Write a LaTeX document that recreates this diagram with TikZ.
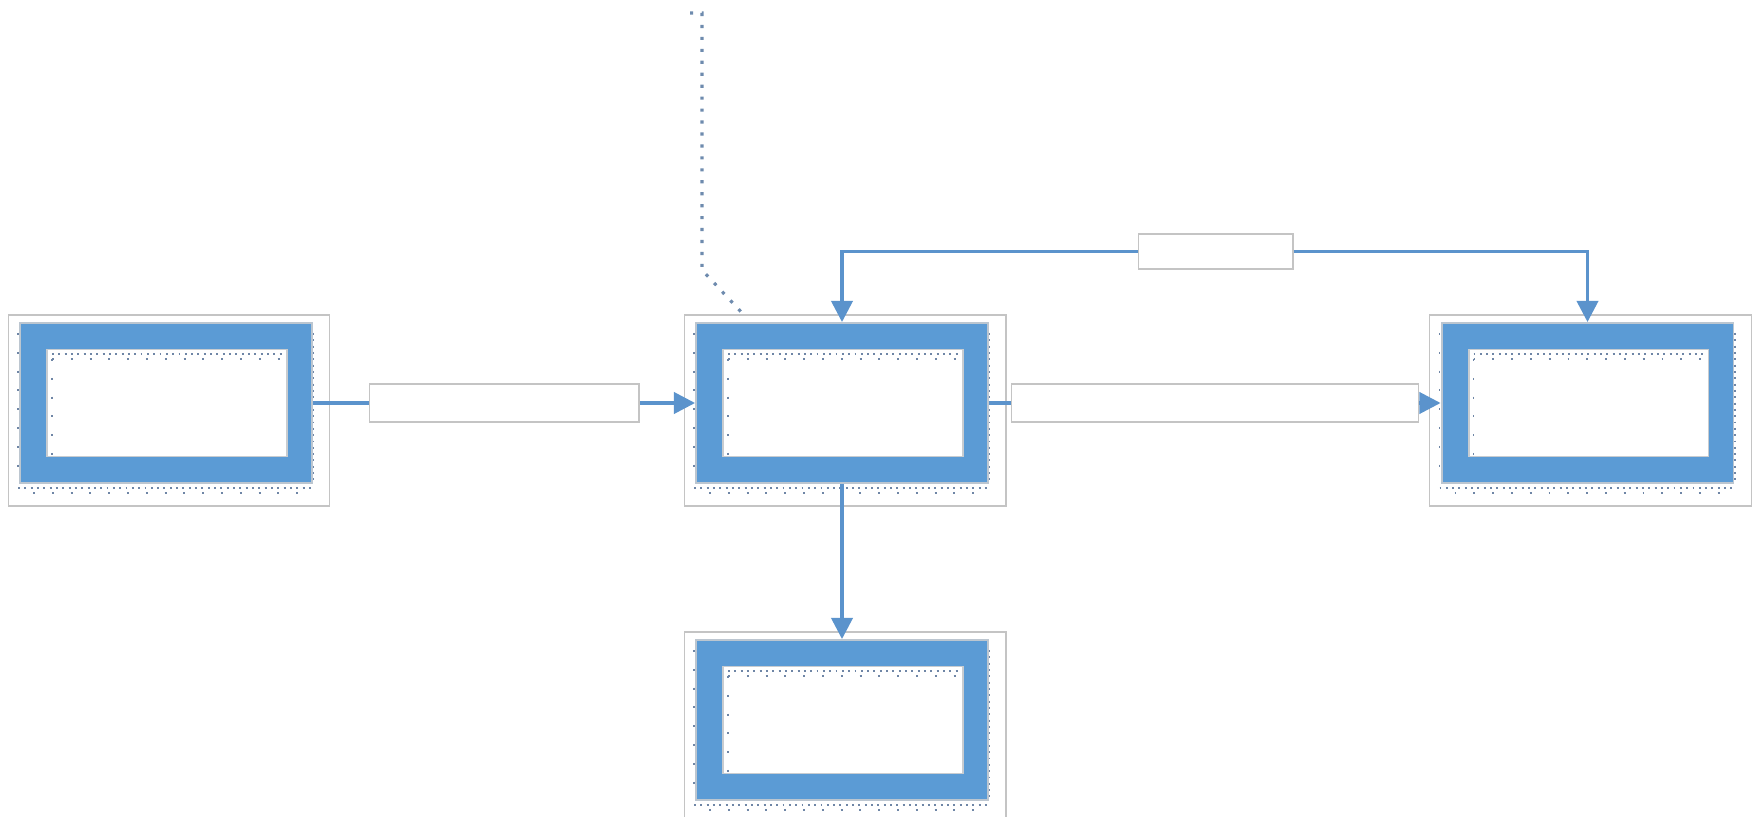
\documentclass[tikz,border=0pt]{standalone}
\usepackage{tikz}
\usetikzlibrary{arrows.meta}
\usetikzlibrary{positioning}

\definecolor{stageblue}{HTML}{5B9BD5}
\definecolor{stageedge}{HTML}{BCC6D0}
\definecolor{framegray}{HTML}{C4C4C4}
\definecolor{innergray}{HTML}{C8CCD0}
\definecolor{arrowblue}{HTML}{5B93CC}
\definecolor{dotblue}{HTML}{6F86A6}
\definecolor{noteblue}{HTML}{6E8BAE}

\tikzset{
	frame/.style={draw=framegray, line width=0.6pt, minimum width=6.44cm, minimum height=3.82cm, inner sep=0pt},
	stage/.style={draw=stageedge, line width=1.1pt, fill=stageblue, minimum width=5.84cm, minimum height=3.2cm, inner sep=0pt},
	inner/.style={draw=innergray, line width=1.1pt, fill=white, minimum width=4.8cm, minimum height=2.14cm, inner sep=0pt},
	lbl/.style={draw=framegray, line width=0.6pt, fill=white, minimum height=0.76cm, inner sep=0pt},
	flow/.style={color=arrowblue, line width=2pt, -{Triangle[length=12pt,width=12pt]}},
	dense/.style={draw=dotblue, line width=1.1pt, dash pattern=on 1.1pt off 2.5pt},
	sparse/.style={draw=dotblue, line width=1.1pt, dash pattern=on 1.1pt off 9.6pt},
	noteline/.style={draw=noteblue, line width=1.8pt, dash pattern=on 1.8pt off 5pt}
}

\begin{document}
\begin{tikzpicture}[x=0.02cm, y=-0.02cm]
\clip (0,0) rectangle (1755,817);
\fill[white] (0,0) rectangle (1755,817);

% stages
\foreach \n/\cx/\cy in {L/166/403, M/842/403, R/1587.5/403, B/842/720}
{
	\node[frame] (\n f) at (\cx+3,\cy+7.5) {};
	\node[stage] (\n) at (\cx,\cy) {};
	\node[inner] (\n i) at (\cx+1,\cy) {};
	\draw[dense] (\cx-148,\cy+85) -- (\cx+149,\cy+85);
	\draw[sparse] (\cx-133,\cy+90) -- (\cx+134,\cy+90);
	\draw[dense] (\cx+147.5,\cy-70) -- (\cx+147.5,\cy+77);
	\draw[sparse] (\cx-148,\cy-70) -- (\cx-148,\cy+77);
	\draw[dense] (\cx-114,\cy-49) -- (\cx+116,\cy-49);
	\draw[sparse] (\cx-114,\cy-44) -- (\cx+116,\cy-44);
	\draw[sparse] (\cx-114,\cy-44) -- (\cx-114,\cy+54);
}

% connectors
\draw[flow] (L.east) -- node [lbl, minimum width=5.4cm] {} (M.west);
\draw[flow] (M.east) -- node [lbl, minimum width=8.14cm] {} (R.west);
\draw[flow] (M.south) -- (B.north);
\node[lbl, minimum width=3.1cm, minimum height=0.7cm] (top) at (1215.5,251.5) {};
\draw[flow] (top) -| (M.north);
\draw[flow] (top) -| (R.north);

% dotted note line
\coordinate (note) at (690,13);
\coordinate (bend) at (702,270);
\draw[noteline] (note) -- (702,13) -- (bend) -- ([xshift=1.2cm]Mf.north west);
\end{tikzpicture}
\end{document}
